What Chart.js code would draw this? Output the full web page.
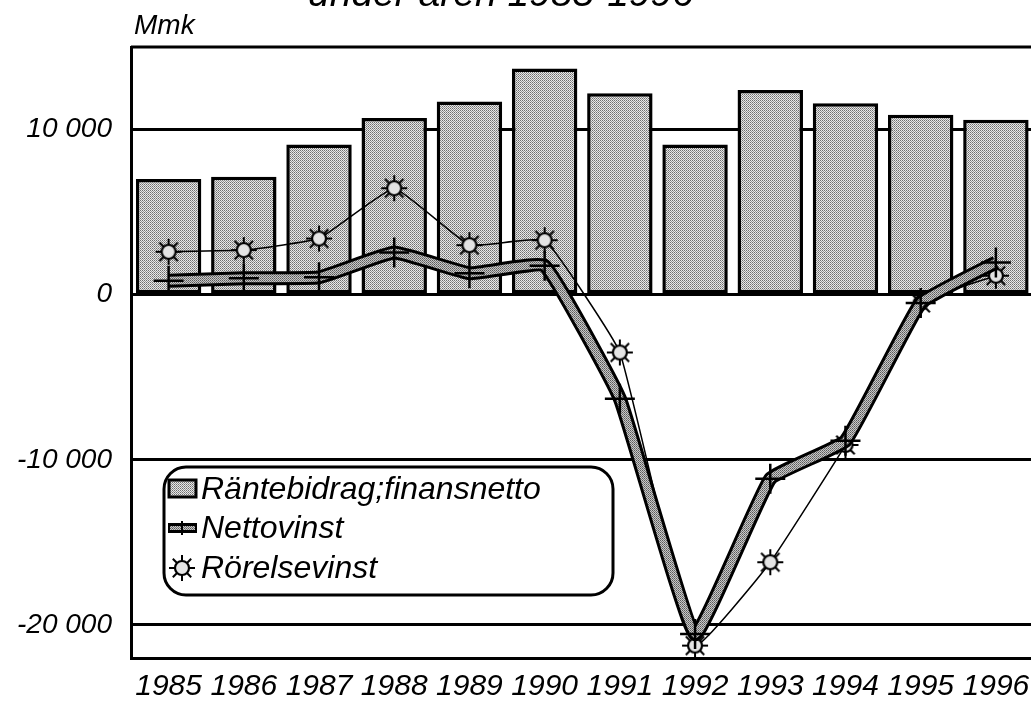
<!DOCTYPE html>
<html>
<head>
<meta charset="utf-8">
<script src="https://cdn.jsdelivr.net/npm/chart.js@4.4.1/dist/chart.umd.min.js"></script>
<style>
  html, body { margin: 0; padding: 0; background: #fff; overflow: hidden; }
  #wrap { width: 1051px; height: 704px; position: relative; }
</style>
</head>
<body>
<div id="wrap"><canvas id="chart"></canvas></div>
<script>
"use strict";

const YEARS = ["1985", "1986", "1987", "1988", "1989", "1990", "1991", "1992", "1993", "1994", "1995", "1996"];
const RANTEBIDRAG = [7000, 7150, 9100, 10700, 11700, 13700, 12200, 9100, 12400, 11600, 10900, 10600];
const NETTOVINST = [850, 1000, 1050, 2550, 1300, 1750, -6300, -20550, -11150, -8850, -500, 1950];
const RORELSEVINST = [2600, 2700, 3400, 6450, 3000, 3300, -3500, -21250, -16200, -9100, -500, 1150];
const Y_TICKS = [-20000, -10000, 0, 10000];
const Y_MIN = -22000;
const Y_MAX = 15000;

const TITLE = "under åren 1985-1996";
const UNIT = "Mmk";
const LEGEND = ["Räntebidrag;finansnetto", "Nettovinst", "Rörelsevinst"];

const FONT = "'Liberation Sans', Arial, Helvetica, sans-serif";

// stippled grey fill, like the halftone in the print
function stipple(colors) {
  const c = document.createElement("canvas");
  c.width = 2;
  c.height = 2;
  const g = c.getContext("2d");
  colors.forEach((col, i) => {
    g.fillStyle = col;
    g.fillRect(i % 2, Math.floor(i / 2), 1, 1);
  });
  return g.createPattern(c, "repeat");
}
const barFill = stipple(["#6e6e6e", "#e8e8e8", "#e8e8e8", "#959595"]);
const lineFill = stipple(["#5a5a5a", "#c8c8c8", "#c8c8c8", "#7a7a7a"]);

// the little "sun" marker used for Rörelsevinst
function sunMarker(size) {
  const c = document.createElement("canvas");
  c.width = size;
  c.height = size;
  const g = c.getContext("2d");
  const m = size / 2;
  g.strokeStyle = "#000";
  g.lineWidth = 2;
  for (let k = 0; k < 8; k++) {
    const a = (k * Math.PI) / 4;
    g.beginPath();
    g.moveTo(m + Math.cos(a) * 6, m + Math.sin(a) * 6);
    g.lineTo(m + Math.cos(a) * (m - 1), m + Math.sin(a) * (m - 1));
    g.stroke();
  }
  g.beginPath();
  g.arc(m, m, 7, 0, Math.PI * 2);
  g.fillStyle = "#e4e4e4";
  g.fill();
  g.lineWidth = 2.2;
  g.stroke();
  return c;
}
const sun = sunMarker(28);

const fmt = (v) => String(v).replace(/\B(?=(\d{3})+(?!\d))/g, " ");

// frame, title, unit and the rounded legend box
const decor = {
  id: "decor",
  beforeDatasetsDraw(chart) {
    const { ctx, chartArea: a } = chart;
    ctx.save();
    ctx.strokeStyle = "#000";
    ctx.lineWidth = 3;
    ctx.beginPath();
    ctx.moveTo(a.left, a.top);
    ctx.lineTo(a.right + 5, a.top);
    ctx.stroke();
    ctx.restore();
  },
  afterDraw(chart) {
    const { ctx } = chart;
    ctx.save();
    ctx.fillStyle = "#000";
    ctx.textBaseline = "alphabetic";
    ctx.font = `italic 39px ${FONT}`;
    ctx.textAlign = "center";
    ctx.fillText(TITLE, 501, 6);
    ctx.font = `italic 28px ${FONT}`;
    ctx.textAlign = "left";
    ctx.fillText(UNIT, 134, 34);

    // legend
    const bx = 164, by = 467, bw = 449, bh = 128;
    ctx.beginPath();
    ctx.roundRect(bx, by, bw, bh, 22);
    ctx.fillStyle = "#fff";
    ctx.fill();
    ctx.lineWidth = 3;
    ctx.strokeStyle = "#000";
    ctx.stroke();

    const rows = [489, 528, 568];
    // bar swatch
    ctx.fillStyle = barFill;
    ctx.fillRect(169, rows[0] - 9, 27, 17);
    ctx.lineWidth = 3;
    ctx.strokeRect(169, rows[0] - 9, 27, 17);
    // thick line swatch with cross
    ctx.lineWidth = 10;
    ctx.strokeStyle = "#000";
    ctx.beginPath();
    ctx.moveTo(168, rows[1]);
    ctx.lineTo(197, rows[1]);
    ctx.stroke();
    ctx.lineWidth = 4;
    ctx.strokeStyle = lineFill;
    ctx.beginPath();
    ctx.moveTo(170, rows[1]);
    ctx.lineTo(195, rows[1]);
    ctx.stroke();
    ctx.lineWidth = 2;
    ctx.strokeStyle = "#000";
    ctx.beginPath();
    ctx.moveTo(182, rows[1] - 7);
    ctx.lineTo(182, rows[1] + 7);
    ctx.stroke();
    // sun swatch
    ctx.drawImage(sun, 182 - 14, rows[2] - 14);

    ctx.fillStyle = "#000";
    ctx.font = `italic 32px ${FONT}`;
    ctx.textBaseline = "middle";
    LEGEND.forEach((t, i) => ctx.fillText(t, 201, rows[i] + 1));
    ctx.restore();
  },
};

new Chart(document.getElementById("chart"), {
  data: {
    labels: YEARS,
    datasets: [
      {
        type: "bar",
        label: LEGEND[0],
        data: RANTEBIDRAG,
        backgroundColor: barFill,
        borderColor: "#000",
        borderWidth: 3.5,
        borderSkipped: false,
        barPercentage: 0.87,
        categoryPercentage: 1,
        order: 10,
      },
      {
        type: "line",
        label: LEGEND[2],
        data: RORELSEVINST,
        borderColor: "#000",
        borderWidth: 1.5,
        tension: 0.1,
        pointStyle: sun,
        order: 5,
      },
      {
        type: "line",
        label: LEGEND[1] + " (edge)",
        data: NETTOVINST,
        borderColor: "#000",
        borderWidth: 14,
        tension: 0.1,
        pointRadius: 0,
        order: 3,
      },
      {
        type: "line",
        label: LEGEND[1],
        data: NETTOVINST,
        borderColor: lineFill,
        borderWidth: 8,
        tension: 0.1,
        pointStyle: "cross",
        pointRadius: 15,
        pointBorderColor: "#000",
        pointBorderWidth: 2.5,
        order: 2,
      },
    ],
  },
  options: {
    responsive: true,
    maintainAspectRatio: false,
    animation: false,
    events: [],
    layout: { padding: { top: 47, right: 0, bottom: 0, left: 0 } },
    plugins: { legend: { display: false }, tooltip: { enabled: false } },
    scales: {
      x: {
        grid: { display: false, drawTicks: false },
        border: { display: true, color: "#000", width: 3 },
        ticks: {
          color: "#000",
          font: { family: FONT, size: 30, style: "italic" },
          padding: 11,
          maxRotation: 0,
          autoSkip: false,
        },
        afterFit: (s) => { s.height = 46; },
      },
      y: {
        min: Y_MIN,
        max: Y_MAX,
        afterBuildTicks: (s) => { s.ticks = Y_TICKS.map((v) => ({ value: v })); },
        grid: { color: "#000", lineWidth: 3, drawTicks: false },
        border: { display: true, color: "#000", width: 3 },
        ticks: {
          color: "#000",
          font: { family: FONT, size: 28, style: "italic" },
          padding: 19,
          callback: (v) => fmt(v),
        },
        afterFit: (s) => { s.width = 131; },
      },
    },
  },
  plugins: [decor],
});
</script>
</body>
</html>
